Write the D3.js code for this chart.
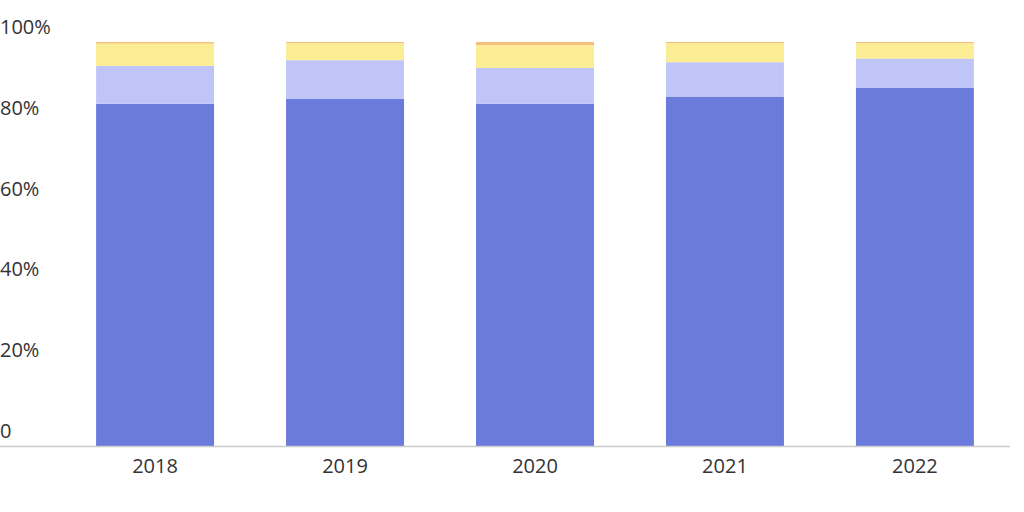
<!DOCTYPE html>
<html><head><meta charset="utf-8">
<script src="https://cdn.jsdelivr.net/npm/d3@7"></script>
<style>body{margin:0;background:#fff}text{font-family:"Open Sans",sans-serif}</style>
</head><body><svg id="c" width="1024" height="512"></svg>
<script>
const years = ["2018","2019","2020","2021","2022"];
const seriesNames = ["s1","s2","s3","s4"];
const s1 = [84.7, 85.9, 84.7, 86.5, 88.7];
const s2 = [9.4, 9.6, 8.9, 8.5, 7.2];
const s3 = [5.5, 4.2, 5.6, 4.7, 3.8];
const s4 = [0.4, 0.3, 0.8, 0.3, 0.3];
const colors = ["#6a7bdc", "#bfc6f7", "#fbed93", "#f5c07a"];
const yTicks = [0, 20, 40, 60, 80, 100];
const yTickLabels = ["0", "20%", "40%", "60%", "80%", "100%"];

const svg = d3.select("#c");
const x = d3.scaleBand().domain(years).range([60, 1010]).paddingInner(0.379).paddingOuter(0.19);
const y = d3.scaleLinear().domain([0, 100]).range([446, 42]);
const table = years.map((yr, i) => ({year: yr, s1: s1[i], s2: s2[i], s3: s3[i], s4: s4[i]}));
const stack = d3.stack().keys(seriesNames)(table);

svg.selectAll("g.s").data(stack).join("g").attr("fill", (d, i) => colors[i])
  .selectAll("rect").data(d => d).join("rect")
  .attr("x", d => x(d.data.year)).attr("width", x.bandwidth())
  .attr("y", d => y(d[1])).attr("height", d => y(d[0]) - y(d[1]));

svg.append("line").attr("x1", 0).attr("x2", 1010).attr("y1", y(0) + 0.5).attr("y2", y(0) + 0.5)
  .attr("stroke", "#cccccc").attr("stroke-width", 1.5);

svg.selectAll("text.yl").data(yTicks).join("text").attr("class", "yl")
  .attr("x", 0).attr("y", d => y(d) - 8).text((d, i) => yTickLabels[i])
  .attr("font-size", 20).attr("fill", "#333");

svg.selectAll("text.xl").data(years).join("text").attr("class", "xl")
  .attr("x", d => x(d) + x.bandwidth() / 2).attr("y", 473).attr("text-anchor", "middle")
  .text(d => d).attr("font-size", 20).attr("fill", "#333");
</script></body></html>
